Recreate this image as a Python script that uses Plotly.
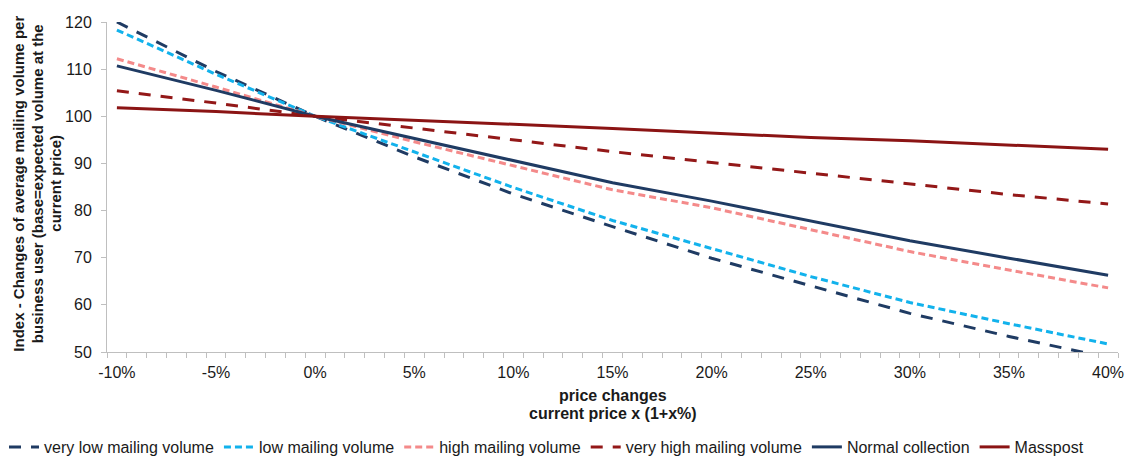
import plotly.graph_objects as go

# Price change scenarios (percent)
price_change = [-10, -5, 0, 5, 10, 15, 20, 25, 30, 35, 40]

# Index of average mailing volume per business user (base = 100 at current price)
very_low = [120.0, 109.5, 100.0, 91.4, 83.5, 76.6, 69.9, 64.0, 58.2, 53.3, 48.8]
low = [118.3, 108.9, 100.0, 92.5, 84.9, 77.9, 72.0, 66.0, 60.5, 56.0, 51.7]
high = [112.2, 106.2, 100.0, 94.6, 89.5, 84.4, 80.6, 75.9, 71.3, 67.4, 63.6]
very_high = [105.4, 102.8, 100.0, 97.5, 95.0, 92.5, 90.2, 87.9, 85.6, 83.4, 81.4]
normal_collection = [110.7, 105.5, 100.0, 95.3, 90.6, 85.9, 82.0, 77.8, 73.6, 69.9, 66.3]
masspost = [101.8, 101.0, 100.0, 99.2, 98.3, 97.4, 96.4, 95.5, 94.8, 93.9, 93.0]

x_tick_vals = [-10, -5, 0, 5, 10, 15, 20, 25, 30, 35, 40]
x_tick_text = ["-10%", "-5%", "0%", "5%", "10%", "15%", "20%", "25%", "30%", "35%", "40%"]

y_title_lines = [
    "Index - Changes of average mailing volume per",
    "business user (base=expected volume at the",
    "current price)",
]
x_title_lines = ["price changes", "current price x (1+x%)"]

series = [
    ("very low mailing volume", very_low, "#1F3B63", "12px,10px"),
    ("low mailing volume", low, "#12B2EC", "7px,4px"),
    ("high mailing volume", high, "#F48A8A", "7px,4px"),
    ("very high mailing volume", very_high, "#931818", "12px,10px"),
    ("Normal collection", normal_collection, "#1F3B63", "solid"),
    ("Masspost", masspost, "#8B1414", "solid"),
]

fig = go.Figure()
for name, values, color, dash in series:
    fig.add_trace(go.Scatter(
        x=price_change, y=values, name=name, mode="lines",
        line=dict(color=color, width=3, dash=dash),
    ))

font_family = "Liberation Sans, Arial, sans-serif"
W, H = 1142, 460
left, right, top, bottom = 107, 24, 22, 108
plot_w = W - left - right
plot_h = H - top - bottom
text_color = "#1A1A1A"

# Rotated y-axis title, one annotation per line
for i, line in enumerate(y_title_lines):
    fig.add_annotation(
        text=f"<b>{line}</b>", textangle=-90, showarrow=False,
        xref="paper", yref="paper",
        x=(19 + 18.5 * i - left) / plot_w, y=0.51,
        xanchor="center", yanchor="middle",
        font=dict(size=15, color=text_color),
    )

# x-axis title, two centred lines below the tick labels
for i, line in enumerate(x_title_lines):
    fig.add_annotation(
        text=f"<b>{line}</b>", showarrow=False,
        xref="paper", yref="paper",
        x=0.5, y=-(43 + 18 * i) / plot_h,
        xanchor="center", yanchor="middle",
        font=dict(size=16, color=text_color),
    )

fig.update_layout(
    width=W, height=H,
    margin=dict(l=left, r=right, t=top, b=bottom, autoexpand=False),
    paper_bgcolor="white", plot_bgcolor="white",
    font=dict(family=font_family, size=16, color=text_color),
    showlegend=True,
    legend=dict(
        orientation="h", xref="paper", x=(4 - left) / plot_w, xanchor="left",
        yref="paper", y=-95 / plot_h, yanchor="middle",
        font=dict(size=16, color=text_color), tracegroupgap=0,
        itemwidth=30,
    ),
    xaxis=dict(
        range=[-10.5, 40.5], automargin=False,
        tickmode="array", tickvals=x_tick_vals, ticktext=x_tick_text,
        ticks="", showgrid=False, zeroline=False,
        showline=True, linecolor="#BFBFBF", linewidth=1,
        tickfont=dict(size=16), ticklabelstandoff=6,
        minor=dict(tick0=-10.5, dtick=1, ticks="outside", ticklen=5,
                   tickcolor="#BFBFBF", showgrid=False),
    ),
    yaxis=dict(
        range=[50, 120], dtick=10, tick0=50, automargin=False,
        ticks="outside", ticklen=5, tickcolor="#BFBFBF",
        showgrid=False, zeroline=False,
        showline=True, linecolor="#BFBFBF", linewidth=1,
        tickfont=dict(size=16), ticklabelstandoff=6,
    ),
)

fig.write_html("out.html")
